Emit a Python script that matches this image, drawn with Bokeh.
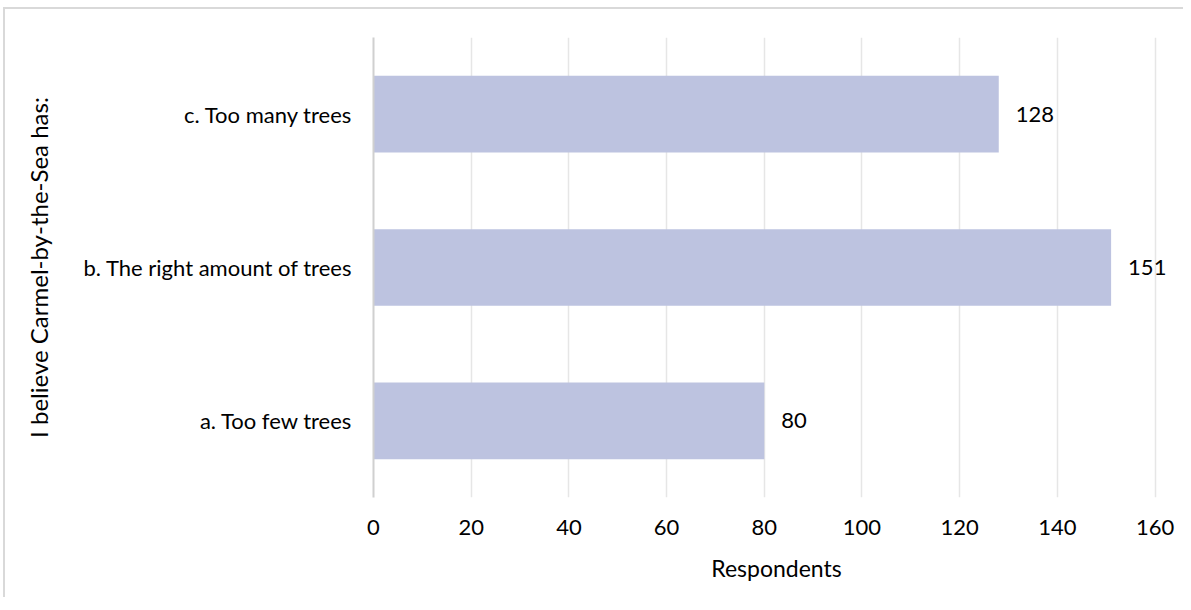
from bokeh.plotting import figure
from bokeh.models import ColumnDataSource, FactorRange, Range1d, LabelSet, FixedTicker
from bokeh.core.properties import value
from bokeh.embed import file_html
from bokeh.resources import INLINE

categories = ["a. Too few trees", "b. The right amount of trees", "c. Too many trees"]
respondents = [80, 151, 128]
labels = ["80", "151", "128"]
x_ticks = [0, 20, 40, 60, 80, 100, 120, 140, 160]

FONT = "Lato"
src = ColumnDataSource(dict(cat=categories, val=respondents, lab=labels))

p = figure(width=1180, height=590, output_backend="svg", toolbar_location=None,
           y_range=FactorRange(*categories, range_padding=0),
           x_range=Range1d(0, 165),
           min_border_left=368, min_border_right=6, min_border_top=28, min_border_bottom=102)
p.styles = {"border-top": "2px solid #d9d9d9", "border-left": "2px solid #d9d9d9",
            "margin-top": "7px", "margin-left": "3px", "box-sizing": "border-box"}
p.outline_line_color = None

p.hbar(y="cat", right="val", left=0, height=0.5, source=src, fill_color="#BDC3E0", line_color=None)

p.add_layout(LabelSet(x="val", y="cat", text="lab", source=src, x_offset=17,
                      text_baseline="middle", text_align="left",
                      text_font=value(FONT), text_font_size="22px", text_color="#000000"))

p.xaxis.ticker = FixedTicker(ticks=x_ticks)
p.xaxis.axis_label = "Respondents"
p.xaxis.axis_line_color = None
p.xaxis.major_tick_line_color = None
p.xaxis.minor_tick_line_color = None
p.xaxis.major_label_standoff = 16
p.xaxis.axis_label_standoff = 16
p.xaxis.major_label_text_font = FONT
p.xaxis.major_label_text_font_size = "22px"
p.xaxis.major_label_text_color = "#000000"
p.xaxis.axis_label_text_font = FONT
p.xaxis.axis_label_text_font_size = "23px"
p.xaxis.axis_label_text_font_style = "normal"
p.xaxis.axis_label_text_color = "#000000"

p.yaxis.axis_label = "I believe Carmel-by-the-Sea has:"
p.yaxis.axis_line_color = "#d0d0d0"
p.yaxis.axis_line_width = 2
p.yaxis.major_tick_line_color = None
p.yaxis.minor_tick_line_color = None
p.yaxis.major_label_standoff = 15
p.yaxis.axis_label_standoff = 27
p.yaxis.major_label_text_font = FONT
p.yaxis.major_label_text_font_size = "22px"
p.yaxis.major_label_text_color = "#000000"
p.yaxis.axis_label_text_font = FONT
p.yaxis.axis_label_text_font_size = "24px"
p.yaxis.axis_label_text_font_style = "normal"
p.yaxis.axis_label_text_color = "#000000"

p.xgrid.grid_line_color = "#e6e6e6"
p.xgrid.grid_line_width = 1.5
p.ygrid.grid_line_color = None

open("out.html", "w").write(file_html(p, INLINE))
